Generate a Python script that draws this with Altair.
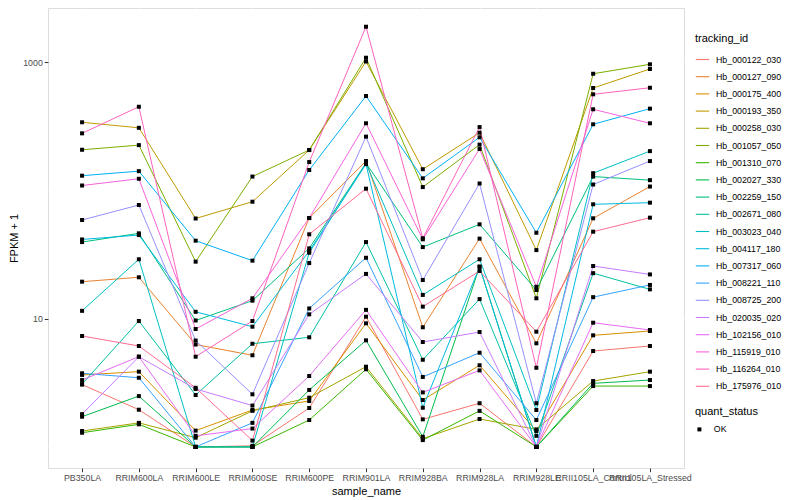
import altair as alt
import pandas as pd

samples = ["PB350LA", "RRIM600LA", "RRIM600LE", "RRIM600SE", "RRIM600PE", "RRIM901LA",
           "RRIM928BA", "RRIM928LA", "RRIM928LE", "RRII105LA_Control", "RRII105LA_Stressed"]

tracking_ids = ["Hb_000122_030", "Hb_000127_090", "Hb_000175_400", "Hb_000193_350", "Hb_000258_030",
                "Hb_001057_050", "Hb_001310_070", "Hb_002027_330", "Hb_002259_150", "Hb_002671_080",
                "Hb_003023_040", "Hb_004117_180", "Hb_007317_060", "Hb_008221_110", "Hb_008725_200",
                "Hb_020035_020", "Hb_102156_010", "Hb_115919_010", "Hb_116264_010", "Hb_175976_010"]

colors = ["#F8766D", "#EA8331", "#D89000", "#C09B00", "#A3A500", "#7CAE00", "#39B600", "#00BB4E",
          "#00BF7D", "#00C1A3", "#00BFC4", "#00BAE0", "#00B0F6", "#35A2FF", "#9590FF", "#C77CFF",
          "#E76BF3", "#FA62DB", "#FF62BC", "#FF6C91"]

# FPKM + 1 per sample (same order as samples)
hb_000122_030 = [3.06, 1.95, 1.0, 1.02, 2.01, 10.35, 1.64, 2.19, 1.0, 5.59, 6.12]
hb_000127_090 = [19.4, 21.0, 6.28, 5.18, 60.8, 169, 8.56, 42.0, 6.42, 60.5, 107]
hb_000175_400 = [3.64, 3.86, 1.34, 1.94, 2.28, 9.19, 2.32, 4.33, 1.33, 7.41, 8.01]
hb_000193_350 = [339, 307, 60.3, 81.5, 206, 1009, 146, 281, 34.2, 627, 882]
hb_000258_030 = [1.33, 1.54, 1.18, 1.91, 2.42, 4.22, 1.16, 1.65, 1.37, 3.26, 3.86]
hb_001057_050 = [207, 225, 27.8, 128, 206, 1080, 106, 227, 14.4, 810, 960]
hb_001310_070 = [1.29, 1.50, 1.0, 1.0, 1.62, 4.03, 1.13, 1.91, 1.0, 2.98, 2.98]
hb_002027_330 = [1.72, 2.49, 1.0, 1.0, 2.78, 6.77, 1.20, 25.4, 1.0, 3.13, 3.32]
hb_002259_150 = [39.5, 46.2, 9.67, 13.8, 35.3, 163, 36.1, 54.3, 16.7, 128, 120]
hb_002671_080 = [3.09, 9.58, 2.54, 6.37, 7.15, 39.5, 4.78, 14.2, 1.22, 22.6, 16.9]
hb_003023_040 = [11.5, 29.0, 1.0, 1.0, 32.6, 162, 15.3, 29.0, 1.94, 136, 202]
hb_004117_180 = [41.4, 44.8, 11.3, 8.65, 33.6, 160, 2.02, 25.4, 1.0, 77.8, 80.1]
hb_007317_060 = [130, 141, 40.5, 28.3, 144, 543, 124, 259, 46.7, 327, 433]
hb_008221_110 = [3.75, 3.46, 1.0, 1.54, 12.0, 29.8, 3.51, 5.42, 1.62, 14.7, 18.3]
hb_008725_200 = [58.7, 76.8, 6.75, 2.57, 27.1, 262, 20.0, 113, 2.19, 111, 169]
hb_020035_020 = [1.80, 5.05, 2.83, 2.10, 10.8, 22.3, 6.57, 7.86, 1.0, 25.7, 22.1]
hb_102156_010 = [3.32, 5.05, 1.22, 1.39, 3.57, 11.7, 2.66, 3.95, 1.0, 9.29, 8.15]
hb_115919_010 = [109, 123, 8.30, 14.4, 60.8, 333, 41.5, 210, 17.7, 428, 333]
hb_116264_010 = [278, 448, 5.05, 9.58, 166, 1884, 42.3, 311, 4.14, 560, 630]
hb_175976_010 = [7.32, 6.12, 2.89, 1.12, 45.4, 103, 12.4, 23.5, 7.91, 47.6, 61.2]

series = [hb_000122_030, hb_000127_090, hb_000175_400, hb_000193_350, hb_000258_030,
          hb_001057_050, hb_001310_070, hb_002027_330, hb_002259_150, hb_002671_080,
          hb_003023_040, hb_004117_180, hb_007317_060, hb_008221_110, hb_008725_200,
          hb_020035_020, hb_102156_010, hb_115919_010, hb_116264_010, hb_175976_010]

rows = []
for tid, vals in zip(tracking_ids, series):
    for i, (s, v) in enumerate(zip(samples, vals)):
        rows.append({"tracking_id": tid, "sample_name": s, "idx": i, "fpkm": v, "quant_status": "OK"})
df = pd.DataFrame(rows)

major_breaks = [10, 1000]
minor_breaks = [1, 100]
minor_df = pd.DataFrame({"fpkm": minor_breaks})

FONT = "Liberation Sans"

xenc = alt.X("sample_name:N", sort=samples, title="sample_name",
             scale=alt.Scale(type="point", padding=0.6),
             axis=alt.Axis(labelAngle=0, labelOverlap=False, labelBound=False, labelLimit=0,
                           grid=True, gridColor="white", gridWidth=1.07,
                           tickSize=3.7, tickColor="#333333", domain=False,
                           labelColor="#4D4D4D", labelFontSize=8.8, labelPadding=2,
                           titleFontSize=11, titleFontWeight="normal", titleColor="black",
                           titlePadding=3))
yscale = alt.Scale(type="log", domain=[0.685, 2636], nice=False)
yenc = alt.Y("fpkm:Q", title="FPKM + 1", scale=yscale,
             axis=alt.Axis(values=major_breaks, format="d", grid=True, gridColor="white",
                           gridWidth=1.07, tickSize=3.7, tickColor="#333333", domain=False,
                           labelColor="#4D4D4D", labelFontSize=8.8, labelPadding=2,
                           titleFontSize=11, titleFontWeight="normal", titleColor="black",
                           titlePadding=3))

minor = alt.Chart(minor_df).mark_rule(color="white", strokeWidth=0.55).encode(
    y=alt.Y("fpkm:Q", scale=yscale)
)

lines = alt.Chart(df).mark_line(strokeWidth=1).encode(
    x=xenc, y=yenc,
    color=alt.Color("tracking_id:N", scale=alt.Scale(domain=tracking_ids, range=colors),
                    legend=alt.Legend(title="tracking_id", orient="none", legendX=647, legendY=25,
                                      symbolType="stroke", symbolStrokeWidth=1.1, symbolSize=180,
                                      labelFontSize=8.8, labelColor="black", titleFontSize=11,
                                      titleFontWeight="normal", titleColor="black",
                                      rowPadding=4.2, labelOffset=6, titlePadding=8)),
    order="idx:Q",
)

points = alt.Chart(df).mark_point(filled=True, color="black", opacity=1, size=16).encode(
    x=xenc, y=yenc,
    shape=alt.Shape("quant_status:N", scale=alt.Scale(domain=["OK"], range=["square"]),
                    legend=alt.Legend(title="quant_status", orient="none", legendX=647, legendY=398,
                                      symbolFillColor="black", symbolStrokeColor="black", symbolSize=16,
                                      labelFontSize=8.8, labelColor="black", titleFontSize=11,
                                      titleFontWeight="normal", titleColor="black",
                                      labelOffset=10, titlePadding=8)),
)

chart = alt.layer(minor, lines, points).properties(
    width=636, height=460,
    autosize=alt.AutoSizeParams(type="none"),
    padding={"left": 40, "top": 0, "right": 108, "bottom": 32},
).configure_view(fill="#EBEBEB", stroke=None).configure(font=FONT)

chart.save("out.html", embed_options={"renderer": "svg", "actions": False})
